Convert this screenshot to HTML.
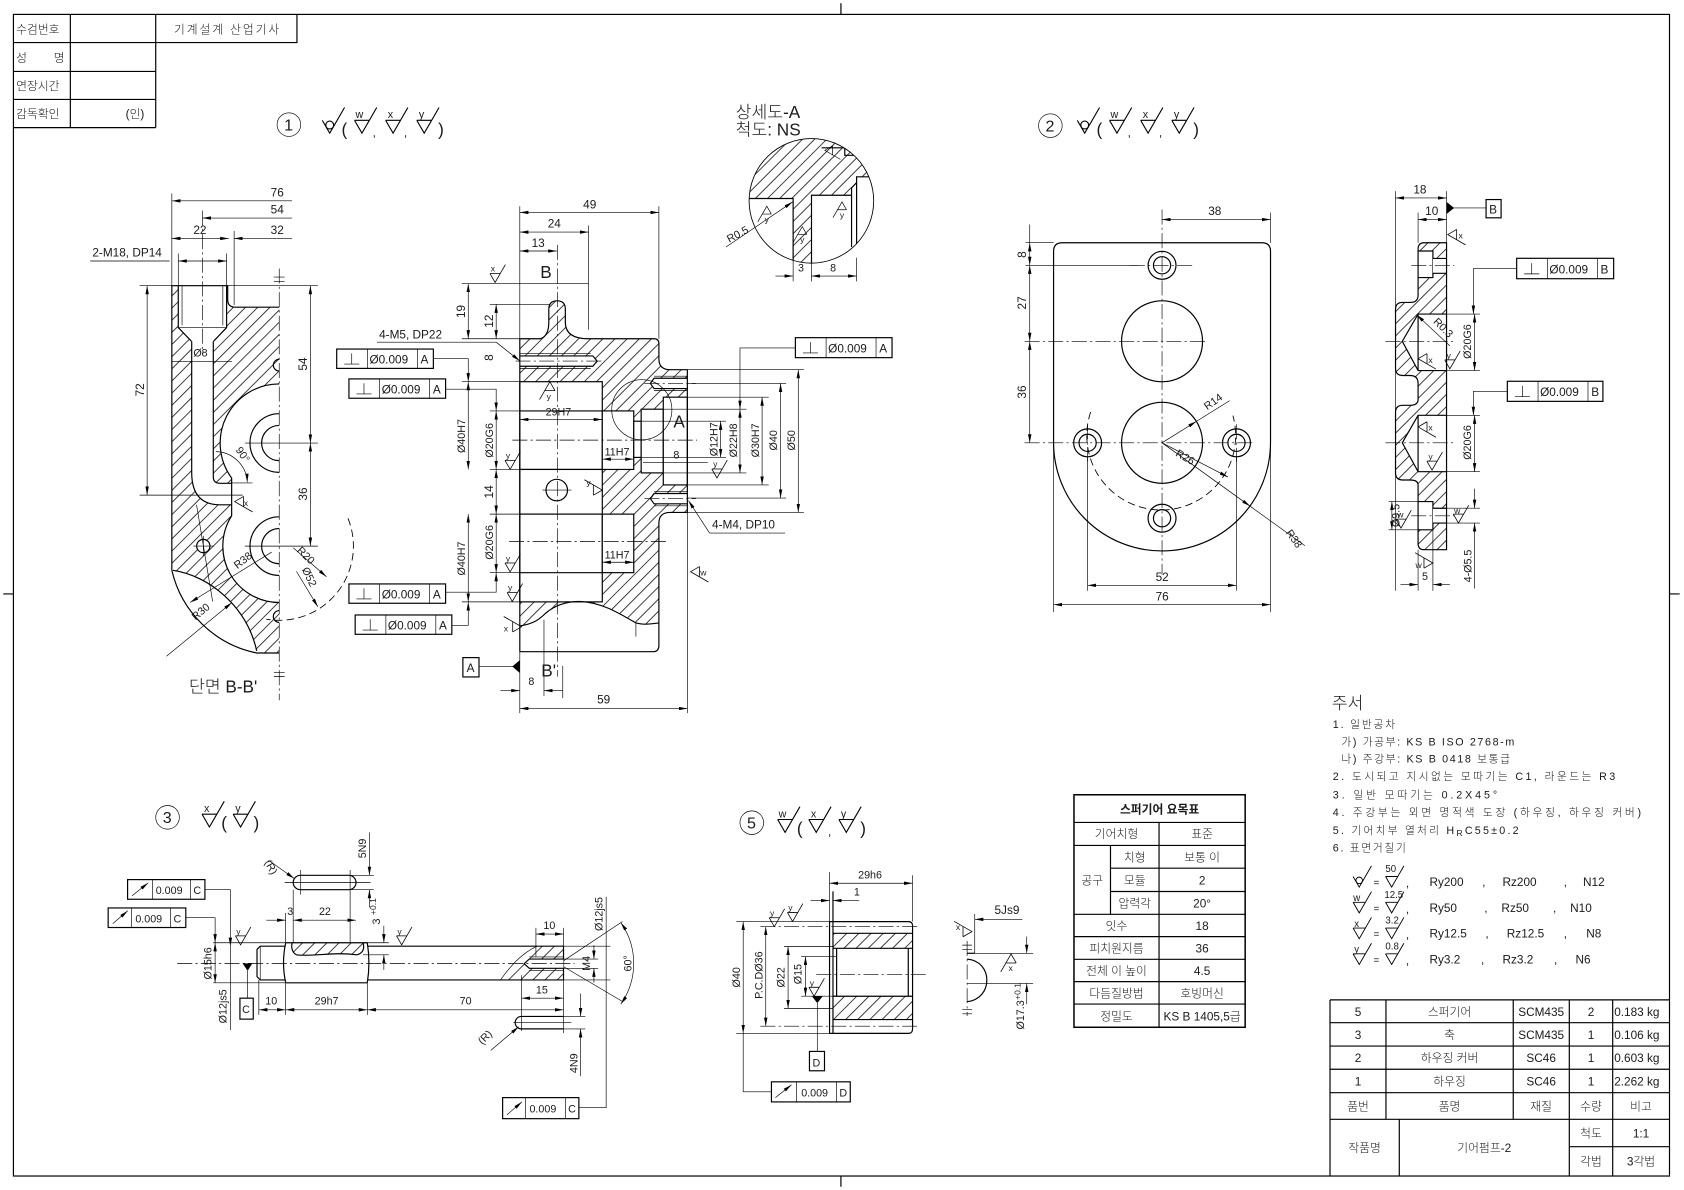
<!DOCTYPE html>
<html><head><meta charset="utf-8"><title>기어펌프-2</title>
<style>
html,body{margin:0;padding:0;background:#fff;overflow:hidden}
svg{display:block}
.k{fill:none;stroke:#000;stroke-width:1.1}
.n{fill:none;stroke:#000;stroke-width:0.6}
.cl{fill:none;stroke:#000;stroke-width:0.6;stroke-dasharray:14 3 2 3}
.dl{fill:none;stroke:#000;stroke-width:0.8;stroke-dasharray:7 4}
.w{fill:#fff;stroke:#000;stroke-width:1.1}
.wf{fill:#fff;stroke:none}
.hf{fill:url(#hp);stroke:none}
.dm{fill:none;stroke:#000;stroke-width:0.6;marker-start:url(#ar);marker-end:url(#ar)}
.d1{fill:none;stroke:#000;stroke-width:0.6;marker-end:url(#ar)}
.f{fill:#000;stroke:none}
text{font-family:"Liberation Sans","Noto Sans CJK KR",sans-serif;font-size:11px;fill:#1a1a1a;font-weight:300}
.m{text-anchor:middle}
.s8{font-size:8px}.s9{font-size:9px}.s10{font-size:10px}.s12{font-size:12px}.s15{font-size:15px}.s16{font-size:16px}
</style></head><body>
<svg width="1684" height="1190" viewBox="0 0 1568 1108" xmlns="http://www.w3.org/2000/svg">
<defs>
<pattern id="hp" patternUnits="userSpaceOnUse" width="8" height="8" patternTransform="rotate(45)"><line x1="4" y1="-1" x2="4" y2="9" stroke="#000" stroke-width="0.7"/></pattern>
<marker id="ar" viewBox="0 0 10 4" refX="10" refY="2" markerWidth="8" markerHeight="3.2" orient="auto-start-reverse" markerUnits="userSpaceOnUse"><path d="M0,0L10,2L0,4z" fill="#000"/></marker>
<g id="sv"><path d="M-6,-10.4H6M-6,-10.4L0,0L12,-20.8" fill="none" stroke="#000" stroke-width="0.9"/></g>
<g id="so"><path d="M-6,-10.4L0,0L12,-20.8" fill="none" stroke="#000" stroke-width="0.9"/><circle cx="0" cy="-6.6" r="3.2" fill="none" stroke="#000" stroke-width="0.9"/></g>
<clipPath id="cA"><circle cx="755.5" cy="187" r="58"/></clipPath>
</defs>
<rect width="1568" height="1108" fill="#fff"/>

<!-- FRAME -->
<rect x="12.5" y="13.4" width="1542" height="1081.6" class="k"/>
<path class="k" d="M783,3V13.4M783,1095V1105M3,553H12.5M1554.5,553H1564"/>

<!-- TOP LEFT TABLE -->
<path class="k" d="M12.5,39.6H276.5V13.4M12.5,66.5H145M12.5,92.6H145M12.5,118.8H145M65.5,13.4V118.8M145,13.4V118.8"/>
<text x="15" y="31">수검번호</text>
<text x="15" y="57.5">성</text><text x="50" y="57.5">명</text>
<text x="15" y="84">연장시간</text>
<text x="15" y="110">감독확인</text>
<text x="117" y="110">(인)</text>
<text x="162" y="31" textLength="98" lengthAdjust="spacing">기계설계 산업기사</text>

<!-- TITLES -->
<circle cx="269" cy="116" r="11" class="n"/><text x="264.5" y="121.5" class="s15">1</text>
<use href="#so" transform="translate(307,124) scale(1.15)"/><text x="318" y="126" class="s16">(</text>
<use href="#sv" transform="translate(337,124) scale(1.15)"/><text x="331" y="110" class="s10">w</text><text x="347" y="127">,</text>
<use href="#sv" transform="translate(366,124) scale(1.15)"/><text x="361" y="110" class="s10">x</text><text x="376" y="127">,</text>
<use href="#sv" transform="translate(395,124) scale(1.15)"/><text x="390" y="110" class="s10">y</text><text x="408" y="126" class="s16">)</text>

<circle cx="978" cy="117" r="11" class="n"/><text x="973.5" y="122.5" class="s15">2</text>
<use href="#so" transform="translate(1010,124) scale(1.15)"/><text x="1021" y="126" class="s16">(</text>
<use href="#sv" transform="translate(1040,124) scale(1.15)"/><text x="1034" y="110" class="s10">w</text><text x="1050" y="127">,</text>
<use href="#sv" transform="translate(1069,124) scale(1.15)"/><text x="1064" y="110" class="s10">x</text><text x="1079" y="127">,</text>
<use href="#sv" transform="translate(1098,124) scale(1.15)"/><text x="1093" y="110" class="s10">y</text><text x="1111" y="126" class="s16">)</text>

<circle cx="156" cy="761" r="11" class="n"/><text x="151.5" y="766.5" class="s15">3</text>
<use href="#sv" transform="translate(195,770) scale(1.15)"/><text x="190" y="756" class="s10">x</text><text x="206" y="772" class="s16">(</text>
<use href="#sv" transform="translate(224,770) scale(1.15)"/><text x="219" y="756" class="s10">y</text><text x="236" y="772" class="s16">)</text>

<circle cx="700" cy="766" r="11" class="n"/><text x="695.5" y="771.5" class="s15">5</text>
<use href="#sv" transform="translate(731,775) scale(1.15)"/><text x="725" y="761" class="s10">w</text><text x="742" y="777" class="s16">(</text>
<use href="#sv" transform="translate(760,775) scale(1.15)"/><text x="755" y="761" class="s10">x</text><text x="771" y="778">,</text>
<use href="#sv" transform="translate(788,775) scale(1.15)"/><text x="783" y="761" class="s10">y</text><text x="801" y="777" class="s16">)</text>

<!-- ===== VIEW 1 : SECTION B-B' ===== -->
<path class="hf" d="M160,266H212V279Q212,286 219,286H260V608H239C230,565 195,536 161,531L160,531Z"/>
<path class="wf" d="M166,266V305L178.5,318H198.6L211,305V266Z"/>
<path class="k" d="M166,266V305L178.5,318H198.6L211,305V266"/>
<path class="n" d="M169.5,266V303M207.5,266V303M166,305H211"/>
<path class="wf" d="M178.5,316V440Q178.5,470 205,470H216V450H205Q198.6,450 198.6,444V316Z"/>
<path class="k" d="M178.5,318V440Q178.5,470 205,470H216M198.6,318V444Q198.6,450 205,450H216"/>
<path class="wf" d="M260,357.5A55,55 0 0 0 215.7,445.1V480.3A52.5,52.5 0 0 0 260,561Z"/>
<path class="k" d="M260,357.5A55,55 0 0 0 215.7,445.1V480.3A52.5,52.5 0 0 0 260,561"/>
<path class="k" d="M260,385.2A27.3,27.3 0 0 0 260,439.8M260,396.1A16.4,16.4 0 0 0 260,428.9M260,481.2A27.3,27.3 0 0 0 260,535.8M260,492.1A16.4,16.4 0 0 0 260,524.9"/>
<path class="k" d="M160,531V266H212V279Q212,286 219,286H260"/>
<path class="k" d="M160,531A102,102 0 0 0 239,608H260"/>
<path class="k" d="M161,531C195,536 230,565 239,606"/>
<circle cx="189.3" cy="508.4" r="6.2" class="w"/>
<path class="n" d="M180,508.4H199M189.3,499V518"/>
<path class="k" d="M260,334.5A5.5,5.5 0 0 0 260,345.5M260,568.5A5.5,5.5 0 0 0 260,579.5"/>
<path class="n" d="M183,470L198,560"/>
<path class="cl" d="M260,250V652"/>
<path class="n" d="M255,258H265M255,262H265M255,626H265M255,630H265"/>
<path class="cl" d="M188.5,196V330"/>
<path class="n" d="M160,180V266M218,215V284M166,236V266M211,236V266"/>
<line class="d1" x1="272" y1="187" x2="160" y2="187"/><text x="252" y="183">76</text>
<line class="d1" x1="272" y1="203" x2="188.5" y2="203"/><text x="252" y="199">54</text>
<line class="dm" x1="160" y1="222" x2="213" y2="222"/><text x="180" y="218">22</text>
<line class="d1" x1="272" y1="222" x2="218" y2="222"/><text x="252" y="218">32</text>
<text x="86" y="239">2-M18, DP14</text>
<path class="n" d="M84,243H158"/>
<line class="dm" x1="166" y1="243" x2="211" y2="243"/>
<path class="n" d="M130,266H296M130,461H226M228,412.5H296M228,508.5H296"/>
<line class="dm" x1="137" y1="266" x2="137" y2="461"/>
<text transform="translate(134,363) rotate(-90)" class="m">72</text>
<line class="dm" x1="289" y1="266" x2="289" y2="412.5"/>
<text transform="translate(286,339) rotate(-90)" class="m">54</text>
<line class="dm" x1="289" y1="412.5" x2="289" y2="508.5"/>
<text transform="translate(286,460) rotate(-90)" class="m">36</text>
<path class="n" d="M160,336.4H216"/><text x="180" y="332" class="s10">Ø8</text>
<text transform="translate(219,419) rotate(55)" class="s10">90°</text>
<path class="d1" d="M201,420.5A30,30 0 0 1 230.3,449"/>
<path class="n" d="M216,449.7H235"/>
<use href="#sv" transform="translate(218.5,467) rotate(90) scale(0.8)"/><text x="227" y="471" class="s8">x</text>
<text transform="translate(221,530) rotate(-38)" class="s10">R38</text>
<line class="d1" x1="253" y1="514" x2="177" y2="561"/>
<text transform="translate(182,578) rotate(-40)" class="s10">R30</text>
<line class="d1" x1="155" y1="611" x2="216" y2="561"/>
<text transform="translate(276,513) rotate(45)" class="s10">R20</text>
<line class="d1" x1="273" y1="510" x2="304" y2="537"/>
<text transform="translate(281,530) rotate(65)" class="s10">Ø52</text>
<line class="d1" x1="276" y1="532" x2="296" y2="565"/>
<path class="dl" d="M324,482.6A69,69 0 0 1 248,576.5"/>
<text x="176" y="645" class="s16">단면 B-B'</text>

<!-- ===== VIEW 1 : MIDDLE ===== -->
<path class="hf" d="M484,315.4H609Q613.5,315.4 613.5,320V334Q613.5,344.2 624,344.2H640V477.1H624Q613.5,477.1 613.5,487V580C600,582 597,581 592,580C575,570 560,561 540,560C525,560 515,565 508,571C503,576 497,581 484,582.8Z"/>
<path class="hf" d="M503,315.4Q511,313 511,300V288Q511,280.1 518.7,280.1Q526.4,280.1 526.4,288V300Q526.4,315.4 548,315.4Z"/>
<path class="w" d="M484,331.4H552L556,336.2L552,341H484"/>
<path class="n" d="M484,329.3H550M484,343.1H550"/>
<rect class="w" x="484" y="355.4" width="76.8" height="81.7"/>
<rect class="w" x="560.8" y="382.6" width="29.3" height="54.5"/>
<rect class="w" x="484" y="437.1" width="76.8" height="41.6"/>
<rect class="w" x="484" y="478.7" width="76.8" height="81.7"/>
<rect class="w" x="560.8" y="478.7" width="29.3" height="54.5"/>
<rect class="w" x="590.1" y="392.2" width="6.9" height="33.7"/>
<rect class="w" x="597" y="381" width="20.6" height="59.3"/>
<rect class="w" x="617.6" y="369.8" width="22.4" height="81.7"/>
<path class="w" d="M640,352.2H609L605.6,357L609,361.8H640"/>
<path class="w" d="M640,459.5H609L605.6,464.3L609,469.1H640"/>
<path class="n" d="M609,350.3H640M609,363.7H640M609,457.6H640M609,471H640"/>
<path class="k" d="M484,382.6H560.8M484,533.2H560.8"/>
<path class="k" d="M484,606.8V315.4H503Q511,313 511,300V288Q511,280.1 518.7,280.1Q526.4,280.1 526.4,288V300Q526.4,315.4 548,315.4H609Q613.5,315.4 613.5,320V334Q613.5,344.2 624,344.2H640V477.1H624Q613.5,477.1 613.5,487V601Q613.5,606.8 608,606.8H484"/>
<path class="k" d="M484,582.8C497,581 503,576 508,571C515,565 525,560 540,560C560,561 575,570 592,580C597,581 600,582 613.5,580"/>
<path class="n" d="M592.1,580.3V592.8"/>
<circle cx="518.4" cy="456.3" r="10" class="k"/>
<path class="n" d="M505,456.3H532"/>
<circle cx="597.6" cy="381.5" r="28" class="n"/>
<text x="627" y="398" class="s16">A</text>
<path class="cl" d="M519,228V630M477,409.8H649M474,504.3H620M480,336.2H560M600,357H648M600,464.3H648"/>
<path class="n" d="M506.5,577V648"/>
<text x="503" y="259" class="s16">B</text>
<text x="504" y="630" class="s16">B'</text>
<path class="n" d="M484,192V315.4M613.5,192V315.4M548,210V307M430,264.1H548M456,283.3H512M430,315.4H484M430,355.4H484M430,560.4H484M456,382.6H484M456,437.1H484M456,478.7H484M456,533.2H484"/>
<line class="dm" x1="484" y1="197.8" x2="613.5" y2="197.8"/><text x="543" y="194">49</text>
<line class="dm" x1="484" y1="216.1" x2="548" y2="216.1"/><text x="510" y="212">24</text>
<line class="dm" x1="484" y1="233.7" x2="518.4" y2="233.7"/><text x="495" y="230">13</text>
<line class="dm" x1="436" y1="264.1" x2="436" y2="315.4"/><text transform="translate(433,290) rotate(-90)" class="m">19</text>
<line class="dm" x1="462" y1="283.3" x2="462" y2="315.4"/><text transform="translate(459,299) rotate(-90)" class="m">12</text>
<text transform="translate(459,333) rotate(-90)" class="m">8</text>
<line class="dm" x1="436" y1="355.4" x2="436" y2="437.1"/><text transform="translate(433,406) rotate(-90)" class="m s10">Ø40H7</text>
<line class="dm" x1="462" y1="382.6" x2="462" y2="437.1"/><text transform="translate(459,410) rotate(-90)" class="m s10">Ø20G6</text>
<line class="dm" x1="462" y1="437.1" x2="462" y2="478.7"/><text transform="translate(459,458) rotate(-90)" class="m">14</text>
<line class="dm" x1="462" y1="478.7" x2="462" y2="533.2"/><text transform="translate(459,505) rotate(-90)" class="m s10">Ø20G6</text>
<line class="dm" x1="436" y1="478.7" x2="436" y2="560.4"/><text transform="translate(433,520) rotate(-90)" class="m s10">Ø40H7</text>
<text x="353" y="315">4-M5, DP22</text>
<path class="n" d="M351,318.6H462"/><line class="d1" x1="462" y1="318.6" x2="484" y2="336"/>
<line class="dm" x1="484" y1="390.6" x2="560.8" y2="390.6"/><text x="508" y="387" class="s10">29H7</text>
<line class="dm" x1="560.8" y1="427.5" x2="590.1" y2="427.5"/><text x="563" y="424" class="s10">11H7</text>
<line class="dm" x1="560.8" y1="523.5" x2="590.1" y2="523.5"/><text x="563" y="520" class="s10">11H7</text>
<path class="n" d="M597,392.2H676M597,425.9H676M617.6,381H695M617.6,440.3H695M640,369.8H715.8M640,451.5H715.8M640,357H732M640,463.7H732M640,344.2H748.5M640,477.1H748.5"/>
<line class="dm" x1="671" y1="392.2" x2="671" y2="425.9"/><text transform="translate(668,409) rotate(-90)" class="m s10">Ø12H7</text>
<line class="dm" x1="689" y1="381" x2="689" y2="440.3"/><text transform="translate(686,410) rotate(-90)" class="m s10">Ø22H8</text>
<line class="dm" x1="709.6" y1="369.8" x2="709.6" y2="451.5"/><text transform="translate(706.5,410) rotate(-90)" class="m s10">Ø30H7</text>
<line class="dm" x1="726.8" y1="357" x2="726.8" y2="463.7"/><text transform="translate(723.7,410) rotate(-90)" class="m s10">Ø40</text>
<line class="dm" x1="743.3" y1="344.2" x2="743.3" y2="477.1"/><text transform="translate(740.2,410) rotate(-90)" class="m s10">Ø50</text>
<path class="n" d="M598.7,430.7H659"/><text x="627" y="427" class="s10">8</text>
<text x="663" y="492">4-M4, DP10</text>
<path class="n" d="M660.7,496.3H731"/><line class="d1" x1="660.7" y1="496.3" x2="641" y2="466"/>
<rect class="k" x="313.5" y="325" width="90" height="18"/><path class="n" d="M342.1,325V343M388.6,325V343M320.5,339H334.5M327.5,339V329"/><text x="344" y="338.5">Ø0.009</text><text x="391.5" y="338.5">A</text>
<path class="d1" d="M403.5,334H436V355.4"/>
<rect class="k" x="324.9" y="352.8" width="90" height="18"/><path class="n" d="M353.5,352.8V370.8M400,352.8V370.8M331.9,366.8H345.9M338.9,366.8V356.8"/><text x="355.4" y="366.3">Ø0.009</text><text x="403" y="366.3">A</text>
<path class="d1" d="M414.9,362.4H462V382.6"/>
<rect class="k" x="324.9" y="543.7" width="90" height="18"/><path class="n" d="M353.5,543.7V561.7M400,543.7V561.7M331.9,557.7H345.9M338.9,557.7V547.7"/><text x="355.4" y="557.2">Ø0.009</text><text x="403" y="557.2">A</text>
<path class="d1" d="M414.9,551.4H462V533.2"/>
<rect class="k" x="330.7" y="572.6" width="90" height="18"/><path class="n" d="M359.3,572.6V590.6M405.8,572.6V590.6M337.7,586.6H351.7M344.7,586.6V576.6"/><text x="361.2" y="586.1">Ø0.009</text><text x="408.8" y="586.1">A</text>
<path class="d1" d="M420.7,582.2H436V560.4"/>
<rect class="k" x="740.6" y="314.4" width="90" height="18.6"/><path class="n" d="M769.2,314.4V333M815.7,314.4V333M747.6,328.6H761.6M754.6,328.6V318.6"/><text x="771.1" y="328">Ø0.009</text><text x="818.7" y="328">A</text>
<path class="d1" d="M740.6,324H689V381"/>
<rect class="k" x="431" y="612.3" width="15" height="18"/><text x="434.5" y="625.5">A</text>
<path class="n" d="M446,620.6H478"/><path class="f" d="M484,614.6V626.6L477,620.6Z"/>
<path class="n" d="M484,606.8V664M640,477.1V664M524,620V650"/>
<path class="d1" d="M466,643H484"/><path class="d1" d="M524,643H506.5"/><text x="492" y="638" class="s10">8</text>
<line class="dm" x1="484" y1="659.7" x2="640" y2="659.7"/><text x="556" y="655">59</text>
<use href="#sv" transform="translate(461,263) scale(0.8)"/><text x="457" y="253" class="s8">x</text>
<use href="#sv" transform="translate(512,355.4) rotate(180) scale(0.8)"/><text x="509" y="372" class="s8">y</text>
<use href="#sv" transform="translate(475,437) scale(0.8)"/><text x="471" y="427" class="s8">y</text>
<use href="#sv" transform="translate(560.8,456.3) rotate(-90) scale(0.8)"/><text x="546" y="452" class="s8">y</text>
<use href="#sv" transform="translate(667.6,445) scale(0.8)"/><text x="664" y="435" class="s8">y</text>
<use href="#sv" transform="translate(475,532.5) scale(0.8)"/><text x="471" y="523" class="s8">y</text>
<use href="#sv" transform="translate(477,560) scale(0.8)"/><text x="473" y="550" class="s8">y</text>
<use href="#sv" transform="translate(485.7,583.6) rotate(-90) scale(0.8)"/><text x="469" y="588" class="s8">x</text>
<use href="#sv" transform="translate(643,532.3) rotate(90) scale(0.8)"/><text x="652" y="536" class="s8">w</text>

<!-- ===== DETAIL A ===== -->
<text x="685" y="110" class="s16">상세도-A</text>
<text x="685" y="126" class="s16">척도: NS</text>
<path class="hf" clip-path="url(#cA)" d="M690,184.8H738.5V250H755.6V181.8H792.9V164.6H808.4V150L820,120H690Z"/>
<g clip-path="url(#cA)"><path class="k" d="M690,184.8H738.5V250M755.6,250V181.8H792.9V175L797.6,170M797.6,250V164.6H815M765,137.6H786.6V144.6H805M792.9,181.8V230"/></g>
<circle cx="755.5" cy="187" r="58" class="n" style="stroke-width:0.8"/>
<path class="n" d="M738.5,240V262M755.6,240V262M797.6,240V262"/>
<path class="d1" d="M722,257H738.5"/><line class="dm" x1="755.6" y1="257" x2="797.6" y2="257"/>
<text x="743" y="253" class="s10">3</text><text x="773" y="253" class="s10">8</text>
<text transform="translate(679,226) rotate(-28)" class="s10">R0.5</text>
<line class="d1" x1="676" y1="230" x2="738" y2="188"/>
<use href="#sv" transform="translate(768,140) rotate(90) scale(0.7)"/>
<use href="#sv" transform="translate(714,192) rotate(180) scale(0.7)"/><text x="712" y="207" class="s8">y</text>
<use href="#sv" transform="translate(747,211) rotate(180) scale(0.7)"/><text x="745" y="226" class="s8">y</text>
<use href="#sv" transform="translate(784,188) rotate(180) scale(0.7)"/><text x="782" y="203" class="s8">y</text>

<!-- ===== VIEW 2 FRONT ===== -->
<path class="k" d="M981,412V234Q981,226 989,226H1175Q1183,226 1183,234V412A101,101 0 0 1 981,412"/>
<path class="n" d="M981,412V570M1183,412V570"/>
<circle cx="1082" cy="247" r="13" class="k"/><circle cx="1082" cy="247" r="8" class="k"/>
<circle cx="1082" cy="317.8" r="37.7" class="k"/>
<circle cx="1082" cy="412.3" r="37.7" class="k"/>
<circle cx="1012.7" cy="412.3" r="13" class="k"/><circle cx="1012.7" cy="412.3" r="8" class="k"/>
<circle cx="1151.3" cy="412.3" r="13" class="k"/><circle cx="1151.3" cy="412.3" r="8" class="k"/>
<circle cx="1082" cy="482.5" r="13" class="k"/><circle cx="1082" cy="482.5" r="8" class="k"/>
<path class="dl" d="M1015.5,383.6A69.3,69.3 0 1 0 1148,387"/>
<path class="cl" d="M1082,195V535M1052,247H1112M954,317.8H1124M954,412.3H1168M1012.7,395V430M1151.3,395V430"/>
<path class="n" d="M955,226H981M955,247H1060M1012.7,425V550M1151.3,425V550M1183,198V226"/>
<line class="dm" x1="958.8" y1="226" x2="958.8" y2="247"/><text transform="translate(955.5,237) rotate(-90)" class="m">8</text>
<path class="n" d="M958.8,209V226"/>
<line class="dm" x1="958.8" y1="247" x2="958.8" y2="317.8"/><text transform="translate(955.5,282) rotate(-90)" class="m">27</text>
<line class="dm" x1="958.8" y1="317.8" x2="958.8" y2="412.3"/><text transform="translate(955.5,365) rotate(-90)" class="m">36</text>
<line class="dm" x1="1082" y1="204.4" x2="1183" y2="204.4"/><text x="1125" y="200">38</text>
<line class="dm" x1="1012.7" y1="545" x2="1151.3" y2="545"/><text x="1076" y="541">52</text>
<line class="dm" x1="981" y1="563" x2="1183" y2="563"/><text x="1076" y="559">76</text>
<line class="d1" x1="1082" y1="412.3" x2="1114" y2="392.3"/><path class="n" d="M1114,392.3L1145,373"/>
<text transform="translate(1124,382) rotate(-35)" class="s10">R14</text>
<line class="d1" x1="1082" y1="412.3" x2="1143.5" y2="444.2"/>
<text transform="translate(1094,424) rotate(30)" class="s10">R26</text>
<line class="d1" x1="1082" y1="412.3" x2="1164" y2="471.3"/><path class="n" d="M1164,471.3L1215,508"/>
<text transform="translate(1197,496) rotate(55)" class="s10">R38</text>

<!-- ===== VIEW 2 SIDE ===== -->
<path class="hf" d="M1326,226H1346.9V511.8H1326Q1320.4,511.8 1320.4,506V451.6Q1320.4,446.9 1313,446.9H1306Q1299.4,446.9 1299.4,440V384Q1299.4,377.4 1306,377.4H1313Q1320.4,377.4 1320.4,372V357Q1320.4,349.6 1313,349.6H1306Q1299.4,349.6 1299.4,343V288Q1299.4,281.6 1306,281.6H1313Q1320.4,281.6 1320.4,275V232Q1320.4,226 1326,226Z"/>
<path class="w" d="M1346.9,292.4H1320.4L1305.7,317.8L1320.4,345H1346.9"/>
<path class="w" d="M1346.9,386.7H1320.4L1305.7,412.3L1320.4,439.2H1346.9"/>
<path class="k" d="M1320.4,292.4V345M1320.4,386.7V439.2"/>
<path class="w" d="M1320.4,233.7H1334.2V258.4H1320.4"/>
<rect class="wf" x="1334.2" y="240.6" width="12.7" height="13.9"/>
<path class="k" d="M1334.2,240.6H1346.9M1334.2,254.5H1346.9"/>
<path class="w" d="M1320.4,467H1334.2V493.3H1320.4"/>
<rect class="wf" x="1334.2" y="473.2" width="12.7" height="13.8"/>
<path class="k" d="M1334.2,473.2H1346.9M1334.2,487H1346.9"/>
<path class="k" d="M1326,226H1346.9V511.8H1326Q1320.4,511.8 1320.4,506V451.6Q1320.4,446.9 1313,446.9H1306Q1299.4,446.9 1299.4,440V384Q1299.4,377.4 1306,377.4H1313Q1320.4,377.4 1320.4,372V357Q1320.4,349.6 1313,349.6H1306Q1299.4,349.6 1299.4,343V288Q1299.4,281.6 1306,281.6H1313Q1320.4,281.6 1320.4,275V232Q1320.4,226 1326,226Z"/>
<path class="cl" d="M1290,317.8H1354M1290,412.3H1354M1314,247H1354M1314,480.3H1354"/>
<path class="n" d="M1299.4,178V550M1346.9,178V226M1320.4,198V226"/>
<line class="dm" x1="1299.4" y1="184.3" x2="1346.9" y2="184.3"/><text x="1316" y="180">18</text>
<line class="dm" x1="1320.4" y1="204.4" x2="1346.9" y2="204.4"/><text x="1327" y="200">10</text>
<path class="f" d="M1346.9,188V199.2L1354,193.6Z"/>
<path class="n" d="M1354,193.6H1383.7"/>
<rect class="k" x="1383.7" y="185.8" width="14" height="17"/><text x="1386.5" y="199">B</text>
<rect class="k" x="1412.2" y="240.5" width="90.3" height="19"/><path class="n" d="M1440.8,240.5V259.5M1487.3,240.5V259.5M1419.2,255H1433.2M1426.2,255V245"/><text x="1442.7" y="254.5">Ø0.009</text><text x="1490.3" y="254.5">B</text>
<path class="d1" d="M1412.2,250H1371.9V292.4"/>
<rect class="k" x="1403.5" y="355" width="89" height="18.7"/><path class="n" d="M1432.1,355V373.7M1478.6,355V373.7M1410.5,369.3H1424.5M1417.5,369.3V359.3"/><text x="1434" y="368.8">Ø0.009</text><text x="1481.6" y="368.8">B</text>
<path class="d1" d="M1403.5,364.3H1371.9V386.7"/>
<path class="n" d="M1346.9,292.4H1378M1346.9,345H1378M1346.9,386.7H1378M1346.9,439.2H1378"/>
<line class="dm" x1="1373" y1="292.4" x2="1373" y2="345"/><text transform="translate(1369.5,318) rotate(-90)" class="m s10">Ø20G6</text>
<line class="dm" x1="1373" y1="386.7" x2="1373" y2="439.2"/><text transform="translate(1369.5,412) rotate(-90)" class="m s10">Ø20G6</text>
<line class="d1" x1="1350" y1="322" x2="1319" y2="293"/>
<text transform="translate(1334,300) rotate(45)" class="s10">R0.3</text>
<path class="n" d="M1293,467H1320.4M1293,493.3H1320.4"/>
<line class="dm" x1="1296" y1="467" x2="1296" y2="493.3"/>
<text transform="translate(1303,480) rotate(-90)" class="m s10">Ø9.5</text>
<path class="n" d="M1346.9,473.2H1378M1346.9,487H1378"/>
<path class="d1" d="M1373,455V473.2"/><path class="d1" d="M1373,548V487"/>
<text transform="translate(1370,527) rotate(-90)" class="m s10">4-Ø5.5</text>
<path class="n" d="M1320.4,511.8V550M1334.2,493.3V550"/>
<path class="d1" d="M1304,544.3H1320.4"/><path class="d1" d="M1350,544.3H1334.2"/><text x="1324" y="540" class="s10">5</text>
<use href="#sv" transform="translate(1348,218.4) rotate(90) scale(0.8)"/><text x="1358" y="222" class="s8">x</text>
<use href="#sv" transform="translate(1320.4,334) rotate(90) scale(0.8)"/><text x="1330" y="338" class="s8">x</text>
<use href="#sv" transform="translate(1350,343.4) scale(0.8)"/><text x="1347" y="334" class="s8">y</text>
<use href="#sv" transform="translate(1320.4,397.5) rotate(90) scale(0.8)"/><text x="1330" y="401" class="s8">x</text>
<use href="#sv" transform="translate(1333.4,437.7) scale(0.8)"/><text x="1330" y="428" class="s8">y</text>
<use href="#sv" transform="translate(1304.5,491.7) scale(0.8)"/><text x="1301" y="482" class="s8">w</text>
<use href="#sv" transform="translate(1358,487) scale(0.8)"/><text x="1354" y="478" class="s8">w</text>
<use href="#sv" transform="translate(1334.2,524.2) rotate(-90) scale(0.8)"/><text x="1318" y="529" class="s8">w</text>

<!-- ===== VIEW 3 SHAFT ===== -->
<rect class="k" x="118.8" y="819" width="72" height="18.3"/><path class="n" d="M141.9,819V837.3M177.3,819V837.3"/>
<line class="d1" x1="123" y1="834" x2="138" y2="822"/><text x="145" y="832.5" class="s10">0.009</text><text x="180" y="832.5" class="s10">C</text>
<path class="d1" d="M190.8,828.4H214.5V881"/>
<rect class="k" x="100.7" y="845.4" width="72.3" height="18.2"/><path class="n" d="M122.3,845.4V863.6M158.8,845.4V863.6"/>
<line class="d1" x1="105" y1="860" x2="119" y2="848"/><text x="126" y="859" class="s10">0.009</text><text x="161.5" y="859" class="s10">C</text>
<path class="d1" d="M173,854.5H200.3V877.8"/>
<path class="n" d="M198.5,877.8H266M198.5,915.1H266"/>
<line class="dm" x1="200.3" y1="877.8" x2="200.3" y2="915.1"/>
<text transform="translate(197,897) rotate(-90)" class="m s10">Ø15h6</text>
<path class="n" d="M214.5,881V959"/>
<text transform="translate(211,937) rotate(-90)" class="m s10">Ø12js5</text>
<path class="f" d="M226,897H235L230.5,904Z"/>
<path class="n" d="M230.5,904V929.4"/>
<rect class="k" x="223.4" y="929.4" width="12.4" height="19.5"/><text x="225.5" y="943" class="s10">C</text>
<path class="hf" d="M272,878H338C340,884 337,888 332,889C310,886 292,891 276,889C272,887 271,882 272,878Z"/>
<path class="k" d="M272,878C271,882 272,887 276,889C292,891 310,886 332,889C337,888 340,884 338,878"/>
<path class="k" d="M266,881H242.3L239.3,884V909.4L242.3,912.4H266"/>
<path class="n" d="M242.3,881V912.4"/>
<path class="k" d="M266,877.8H342M266,915.1H342M266,877.8Q262,896.5 266,915.1M342,877.8Q345,896.5 342,915.1M342,881H524.7V912.4H342"/>
<path class="hf" d="M466,912.4C475,900 485,888 500,881H524.7V912.4Z"/>
<path class="w" d="M524.7,893H492.8L488,897.3L492.8,901.6H524.7"/>
<path class="n" d="M492.8,891H524.7M492.8,903.6H524.7M466,912.4C475,900 485,888 500,881"/>
<rect class="k" x="273" y="815" width="58.5" height="13.4" rx="6.7"/>
<path class="n" d="M273,828.4V878M326,828.4V878M265,821.7H345M280,810V833M326,810V833"/>
<text transform="translate(246,803) rotate(60)" class="s10">(R)</text>
<line class="d1" x1="250" y1="801" x2="274" y2="818"/>
<path class="n" d="M326,815H348M326,828.4H348"/>
<path class="d1" d="M344,775V815"/><path class="d1" d="M344,845V828.4"/>
<text transform="translate(341,790) rotate(-90)" class="m s10">5N9</text>
<path class="n" d="M266,850V877.8"/>
<path class="d1" d="M248,856.8H266"/>
<line class="dm" x1="273" y1="856.8" x2="331.5" y2="856.8"/>
<text x="267.5" y="852" class="s10">3</text><text x="297" y="852" class="s10">22</text>
<path class="n" d="M338,877.8H362M338,889H362"/>
<path class="d1" d="M357.4,862V877.8"/><path class="d1" d="M357.4,903V889"/>
<text transform="translate(354,858) rotate(-90)" class="m s10">3</text>
<text transform="translate(350,852) rotate(-90)" class="s8">+0.1</text>
<use href="#sv" transform="translate(224,879.7) scale(0.8)"/><text x="220" y="870" class="s8">y</text>
<use href="#sv" transform="translate(374,879.7) scale(0.8)"/><text x="370" y="870" class="s8">y</text>
<path class="cl" d="M165,897H535"/>
<path class="n" d="M499,864V891M524.7,864V881"/>
<line class="dm" x1="499" y1="869.7" x2="524.7" y2="869.7"/><text x="506" y="865" class="s10">10</text>
<path class="n" d="M485.7,908V960"/>
<line class="dm" x1="485.7" y1="929.4" x2="524.7" y2="929.4"/><text x="499" y="925" class="s10">15</text>
<path class="n" d="M241,912.4V945M266,915.1V945M342,915.1V945M524.7,912.4V962"/>
<line class="dm" x1="342" y1="940.2" x2="524.7" y2="940.2"/><text x="428" y="935.5" class="s10">70</text>
<line class="dm" x1="266" y1="940.2" x2="342" y2="940.2"/><text x="293" y="935.5" class="s10">29h7</text>
<line class="dm" x1="241" y1="940.2" x2="266" y2="940.2"/><text x="247" y="935.5" class="s10">10</text>
<path class="k" d="M485.5,946.4H524.7M485.5,958H524.7M485.5,946.4A5.8,5.8 0 0 0 485.5,958"/>
<path class="n" d="M478,952.2H532"/>
<text transform="translate(449,973) rotate(-45)" class="s10">(R)</text>
<line class="d1" x1="457" y1="978" x2="483" y2="956"/>
<path class="n" d="M524.7,946.4H545M524.7,958H545"/>
<path class="d1" d="M540.6,925V946.4"/><path class="d1" d="M540.6,1002V958"/>
<text transform="translate(537.5,990) rotate(-90)" class="m s10">4N9</text>
<path class="n" d="M524.7,893H557M524.7,901.6H557"/>
<path class="d1" d="M553,880V893"/><path class="d1" d="M553,915V901.6"/>
<text transform="translate(549.5,897) rotate(-90)" class="m s10">M4</text>
<path class="n" d="M524.7,881H568.4M524.7,912.4H568.4M564.4,835V1031.4H539"/>
<text transform="translate(561,851) rotate(-90)" class="m s10">Ø12js5</text>
<path class="n" d="M524.7,894.6L579.6,858M524.7,900L579.6,932.5"/>
<path class="dm" d="M578,859A66,66 0 0 1 578,935"/>
<text transform="translate(588,897) rotate(-90)" class="m s10">60°</text>
<rect class="k" x="468" y="1022" width="71" height="19.6"/><path class="n" d="M489.2,1022V1041.6M526.5,1022V1041.6"/>
<line class="d1" x1="472" y1="1038" x2="486" y2="1026"/><text x="493" y="1036" class="s10">0.009</text><text x="529" y="1036" class="s10">C</text>

<!-- ===== VIEW 5 GEAR ===== -->
<path class="hf" d="M775.6,869H849.7V883H775.6Z"/>
<path class="hf" d="M775.6,927.6H849.7V949.3H775.6Z"/>
<path class="k" d="M772.4,858.1H846Q849.7,858.1 849.7,862V958Q849.7,962.2 846,962.2H772.4Z"/>
<path class="k" d="M775.6,830V962.2M775.6,869H849.7M775.6,883H849.7M775.6,927.6H849.7M775.6,949.3H849.7M779,883V927.6M845.7,883V927.6"/>
<path class="cl" d="M708,862.8H856M708,955.5H856M760,907.4H862"/>
<path class="n" d="M772.4,812V858M849.7,815V858"/>
<line class="dm" x1="772.4" y1="822.4" x2="849.7" y2="822.4"/><text x="799" y="818" class="s10">29h6</text>
<path class="d1" d="M754.7,838.5H772.4"/><path class="d1" d="M800,838.5H775.6"/><text x="795" y="834" class="s10">1</text>
<path class="n" d="M685.5,858.1H772.4M685.5,962.2H772.4M730,881.4H775.6M730,938.9H775.6M746,890.7H779M746,927.6H779"/>
<line class="dm" x1="692" y1="858.1" x2="692" y2="962.2"/><path class="n" d="M692,962.2V1016.6H718.3"/>
<text transform="translate(689,910) rotate(-90)" class="m s10">Ø40</text>
<line class="dm" x1="713" y1="862.8" x2="713" y2="955.5"/>
<text transform="translate(710,908) rotate(-90)" class="m s10">P.C.DØ36</text>
<line class="dm" x1="733.8" y1="881.4" x2="733.8" y2="938.9"/>
<text transform="translate(730.5,910) rotate(-90)" class="m s10">Ø22</text>
<line class="dm" x1="750" y1="890.7" x2="750" y2="927.6"/>
<text transform="translate(746.5,907) rotate(-90)" class="m s10">Ø15</text>
<use href="#sv" transform="translate(721,862.8) scale(0.8)"/><text x="717" y="853" class="s8">y</text>
<use href="#sv" transform="translate(738,858) scale(0.8)"/><text x="734" y="848" class="s8">y</text>
<use href="#sv" transform="translate(758,927.6) scale(0.8)"/><text x="754" y="918" class="s8">y</text>
<path class="f" d="M756,927.6H766L761,934Z"/>
<path class="n" d="M761,934V979"/>
<rect class="k" x="753.7" y="979" width="14" height="18"/><text x="756.5" y="993" class="s10">D</text>
<rect class="k" x="718.3" y="1007.3" width="73.4" height="18.7"/><path class="n" d="M741.8,1007.3V1026M778.9,1007.3V1026"/>
<line class="d1" x1="722" y1="1022" x2="737" y2="1010"/><text x="746" y="1021" class="s10">0.009</text><text x="781.5" y="1021" class="s10">D</text>
<path class="cl" d="M900.5,876V946"/>
<path class="n" d="M896,880H905M896,884H905M896,940H905M896,944H905"/>
<path class="n" d="M907.6,851V887.6M907.6,887.6H962M900.5,915.6H962"/>
<path class="k" d="M900.5,893C925,895 925,930 900.5,932.7"/>
<path class="k" d="M900.5,887.6H907.6"/>
<path class="d1" d="M952,856H907.6"/><text x="926" y="851">5Js9</text>
<path class="d1" d="M956,872V887.6"/><path class="d1" d="M956,935V915.6"/>
<text transform="translate(953.5,945) rotate(-90)" class="m s10">Ø17.3</text>
<text transform="translate(950,931) rotate(-90)" class="s8">+0.1</text>
<use href="#sv" transform="translate(905,867.4) rotate(-90) scale(0.8)"/><text x="890" y="866" class="s8">x</text>
<use href="#sv" transform="translate(941.4,888.3) rotate(180) scale(0.8)"/><text x="939" y="904" class="s8">x</text>

<!-- ===== GEAR TABLE ===== -->
<rect x="1000" y="740" width="159.4" height="216.5" fill="none" stroke="#000" stroke-width="1.4"/>
<path class="k" d="M1000,765.8H1159.4M1000,787.2H1159.4M1034,808.4H1159.4M1034,830.1H1159.4M1000,851.3H1159.4M1000,872.1H1159.4M1000,893.2H1159.4M1000,914H1159.4M1000,934.9H1159.4M1079.2,765.8V956.5M1034,787.2V851.3"/>
<text x="1079.7" y="757.5" class="m" style="font-weight:700">스퍼기어 요목표</text>
<text x="1039.6" y="780.5" class="m">기어치형</text><text x="1119.3" y="780.5" class="m">표준</text>
<text x="1017" y="823.5" class="m">공구</text>
<text x="1056.6" y="802" class="m">치형</text><text x="1119.3" y="802" class="m">보통 이</text>
<text x="1056.6" y="823.5" class="m">모듈</text><text x="1119.3" y="823.5" class="m">2</text>
<text x="1056.6" y="845" class="m">압력각</text><text x="1119.3" y="845" class="m">20°</text>
<text x="1039.6" y="866" class="m">잇수</text><text x="1119.3" y="866" class="m">18</text>
<text x="1039.6" y="887" class="m">피치원지름</text><text x="1119.3" y="887" class="m">36</text>
<text x="1039.6" y="908" class="m">전체 이 높이</text><text x="1119.3" y="908" class="m">4.5</text>
<text x="1039.6" y="929" class="m">다듬질방법</text><text x="1119.3" y="929" class="m">호빙머신</text>
<text x="1039.6" y="950" class="m">정밀도</text><text x="1119.3" y="950" class="m">KS B 1405,5급</text>

<!-- ===== NOTES ===== -->
<text x="1240" y="660" class="s16">주서</text>
<text x="1241" y="678" class="s10" textLength="58" lengthAdjust="spacing">1. 일반공차</text>
<text x="1249" y="694" class="s10" textLength="161" lengthAdjust="spacing">가) 가공부: KS B ISO 2768-m</text>
<text x="1249" y="710" class="s10" textLength="157" lengthAdjust="spacing">나) 주강부: KS B 0418 보통급</text>
<text x="1241" y="726.5" class="s10" textLength="263" lengthAdjust="spacing">2. 도시되고 지시없는 모따기는 C1, 라운드는 R3</text>
<text x="1241" y="743.5" class="s10" textLength="153" lengthAdjust="spacing">3. 일반 모따기는 0.2X45°</text>
<text x="1241" y="760" class="s10" textLength="287" lengthAdjust="spacing">4. 주강부는 외면 명적색 도장 (하우징, 하우징 커버)</text>
<text x="1241" y="776.5" class="s10" textLength="173" lengthAdjust="spacing">5. 기어치부 열처리 H<tspan class="s8" dy="2">R</tspan><tspan dy="-2">C55±0.2</tspan></text>
<text x="1241" y="793" class="s10" textLength="68" lengthAdjust="spacing">6. 표면거칠기</text>
<use href="#so" transform="translate(1265.6,826) scale(0.95)"/><text x="1279" y="825" class="s9">=</text>
<use href="#sv" transform="translate(1295.8,826) scale(0.95)"/><text x="1290" y="812" class="s9">50</text><text x="1309" y="826">,</text>
<text x="1331" y="825">Ry200</text><text x="1380" y="825">,</text><text x="1399" y="825">Rz200</text><text x="1456" y="825">,</text><text x="1474" y="825">N12</text>
<use href="#sv" transform="translate(1265.6,850) scale(0.95)"/><text x="1260" y="839" class="s9">w</text><text x="1279" y="849" class="s9">=</text>
<use href="#sv" transform="translate(1295.8,850) scale(0.95)"/><text x="1289" y="836" class="s9">12.5</text><text x="1309" y="850">,</text>
<text x="1331" y="849">Ry50</text><text x="1382" y="849">,</text><text x="1398" y="849">Rz50</text><text x="1446" y="849">,</text><text x="1462" y="849">N10</text>
<use href="#sv" transform="translate(1265.6,874) scale(0.95)"/><text x="1261" y="863" class="s9">x</text><text x="1279" y="873" class="s9">=</text>
<use href="#sv" transform="translate(1295.8,874) scale(0.95)"/><text x="1290" y="860" class="s9">3.2</text><text x="1309" y="874">,</text>
<text x="1331" y="873">Ry12.5</text><text x="1383" y="873">,</text><text x="1403" y="873">Rz12.5</text><text x="1456" y="873">,</text><text x="1477" y="873">N8</text>
<use href="#sv" transform="translate(1265.6,898) scale(0.95)"/><text x="1261" y="887" class="s9">y</text><text x="1279" y="897" class="s9">=</text>
<use href="#sv" transform="translate(1295.8,898) scale(0.95)"/><text x="1290" y="884" class="s9">0.8</text><text x="1309" y="898">,</text>
<text x="1331" y="897">Ry3.2</text><text x="1379" y="897">,</text><text x="1399" y="897">Rz3.2</text><text x="1447" y="897">,</text><text x="1467" y="897">N6</text>

<!-- ===== PARTS LIST ===== -->
<path class="k" d="M1238.4,931H1554.5M1238.4,952.2H1554.5M1238.4,974H1554.5M1238.4,995.6H1554.5M1238.4,1017.4H1554.5M1238.4,1042.2H1554.5M1461.2,1067.7H1554.5M1238.4,931V1095M1290.5,931V1042.2M1409,931V1042.2M1461.2,931V1095M1501.6,931V1095M1302.9,1042.2V1095"/>
<text x="1264.5" y="946" class="m">5</text><text x="1349.7" y="946" class="m">스퍼기어</text><text x="1435" y="946" class="m">SCM435</text><text x="1481.4" y="946" class="m">2</text><text x="1503" y="946">0.183 kg</text>
<text x="1264.5" y="967.5" class="m">3</text><text x="1349.7" y="967.5" class="m">축</text><text x="1435" y="967.5" class="m">SCM435</text><text x="1481.4" y="967.5" class="m">1</text><text x="1503" y="967.5">0.106 kg</text>
<text x="1264.5" y="989" class="m">2</text><text x="1349.7" y="989" class="m">하우징 커버</text><text x="1435" y="989" class="m">SC46</text><text x="1481.4" y="989" class="m">1</text><text x="1503" y="989">0.603 kg</text>
<text x="1264.5" y="1010.5" class="m">1</text><text x="1349.7" y="1010.5" class="m">하우징</text><text x="1435" y="1010.5" class="m">SC46</text><text x="1481.4" y="1010.5" class="m">1</text><text x="1503" y="1010.5">2.262 kg</text>
<text x="1264.5" y="1034" class="m">품번</text><text x="1349.7" y="1034" class="m">품명</text><text x="1435" y="1034" class="m">재질</text><text x="1481.4" y="1034" class="m">수량</text><text x="1528" y="1034" class="m">비고</text>
<text x="1270.6" y="1072.5" class="m">작품명</text><text x="1382" y="1072.5" class="m">기어펌프-2</text>
<text x="1481.4" y="1059" class="m">척도</text><text x="1528" y="1059" class="m">1:1</text>
<text x="1481.4" y="1085" class="m">각법</text><text x="1528" y="1085" class="m">3각법</text>
</svg>
</body></html>
